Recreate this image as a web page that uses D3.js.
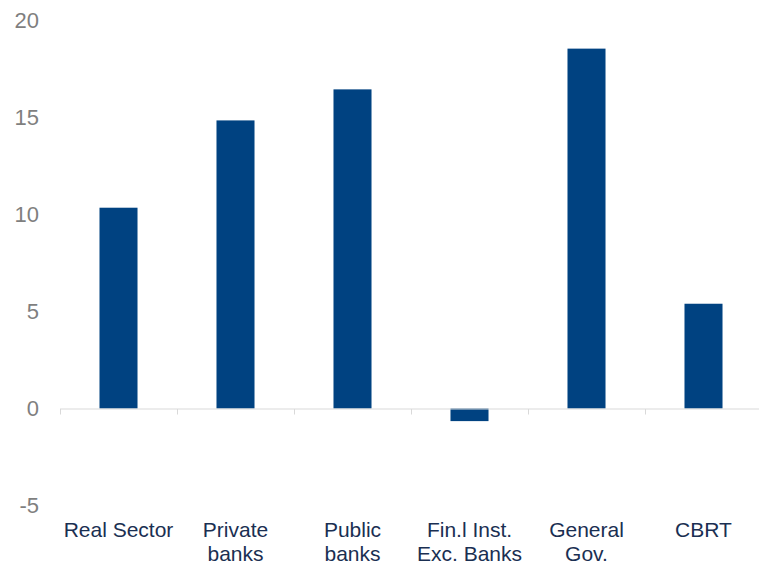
<!DOCTYPE html>
<html>
<head>
<meta charset="utf-8">
<script src="https://cdn.jsdelivr.net/npm/d3@7"></script>
<style>
  html, body { margin: 0; padding: 0; background: #fff; }
  svg { display: block; }
</style>
</head>
<body>
<svg id="chart" width="759" height="564"></svg>
<script>
const categories = [["Real Sector"], ["Private", "banks"], ["Public", "banks"], ["Fin.l Inst.", "Exc. Banks"], ["General", "Gov."], ["CBRT"]];
const values = [10.35, 14.85, 16.45, -0.65, 18.55, 5.4];
const yTicks = [-5, 0, 5, 10, 15, 20];

const svg = d3.select("#chart");
const W = 759, H = 564;

const x = d3.scaleBand()
  .domain(d3.range(categories.length))
  .range([60, 762])
  .paddingInner(0).paddingOuter(0);

const y = d3.scaleLinear().domain([-5, 20]).range([505.5, 20.5]);

const barW = x.bandwidth() * 0.325;

// Y tick labels
svg.append("g").selectAll("text")
  .data(yTicks)
  .join("text")
  .attr("x", 39)
  .attr("y", d => y(d))
  .attr("dy", "0.35em")
  .attr("text-anchor", "end")
  .attr("font-family", "'Liberation Sans', Arial, sans-serif")
  .attr("font-size", 22)
  .attr("fill", "#7f7f7f")
  .text(d => d);

// Bars
svg.append("g").selectAll("rect")
  .data(values)
  .join("rect")
  .attr("x", (d, i) => x(i) + (x.bandwidth() - barW) / 2)
  .attr("y", d => y(Math.max(0, d)))
  .attr("width", barW)
  .attr("height", d => Math.abs(y(d) - y(0)))
  .attr("fill", "#004281");

// Axis line with ticks at band boundaries
const axisG = svg.append("g");
axisG.append("line")
  .attr("x1", 60).attr("x2", W)
  .attr("y1", y(0) + 0.5).attr("y2", y(0) + 0.5)
  .attr("stroke", "#d9d9d9").attr("stroke-width", 1);
const boundaries = d3.range(categories.length + 1).map(i => x(0) + i * x.step());
axisG.selectAll("line.tk")
  .data(boundaries)
  .join("line")
  .attr("class", "tk")
  .attr("x1", d => Math.round(d) + 0.5).attr("x2", d => Math.round(d) + 0.5)
  .attr("y1", y(0) + 0.5).attr("y2", y(0) + 6)
  .attr("stroke", "#d9d9d9").attr("stroke-width", 1);

// Category labels
const lab = svg.append("g").selectAll("text")
  .data(categories)
  .join("text")
  .attr("x", (d, i) => x(i) + x.bandwidth() / 2)
  .attr("y", 537)
  .attr("text-anchor", "middle")
  .attr("font-family", "'Liberation Sans', Arial, sans-serif")
  .attr("font-size", 21)
  .attr("fill", "#1a2f52");
lab.selectAll("tspan")
  .data(d => d)
  .join("tspan")
  .attr("x", function() { return d3.select(this.parentNode).attr("x"); })
  .attr("dy", (d, i) => i === 0 ? 0 : 24)
  .text(d => d);
</script>
</body>
</html>
